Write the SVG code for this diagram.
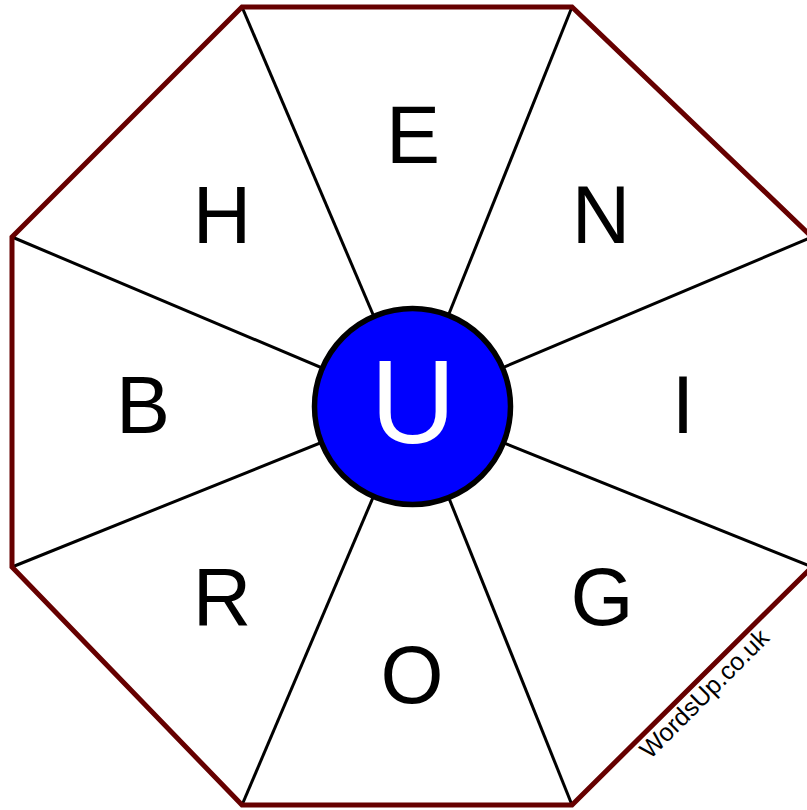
<svg xmlns="http://www.w3.org/2000/svg" width="807" height="810" viewBox="0 0 807 810">
<style>
.spoke{stroke:#000;stroke-width:3;fill:none}
.oct{fill:none;stroke:#660000;stroke-width:5;stroke-linejoin:miter}
.let{font-family:"Liberation Sans",Arial,sans-serif;font-size:81px;fill:#000;text-anchor:middle}
.wm{font-family:"Liberation Sans",Arial,sans-serif;font-size:25px;fill:#000}
</style>
<rect width="807" height="810" fill="#fff"/>
<g id="connectors">
<line class="spoke" x1="242" y1="7" x2="412" y2="406"/>
<line class="spoke" x1="572" y1="7" x2="412" y2="406"/>
<line class="spoke" x1="812" y1="237" x2="412" y2="406"/>
<line class="spoke" x1="812" y1="567" x2="412" y2="406"/>
<line class="spoke" x1="572" y1="805" x2="412" y2="406"/>
<line class="spoke" x1="242" y1="805" x2="412" y2="406"/>
<line class="spoke" x1="12" y1="567" x2="412" y2="406"/>
<line class="spoke" x1="12" y1="237" x2="412" y2="406"/>
</g>
<g id="octagon">
<polygon class="oct" points="242,7 572,7 812,237 812,567 572,805 242,805 12,567 12,237"/>
</g>
<g id="center">
<circle cx="412.5" cy="406.5" r="98" fill="#0000ff" stroke="#000" stroke-width="5.5"/>
<text x="413" y="443" font-family="Liberation Sans, Arial, sans-serif" font-size="118" fill="#fff" text-anchor="middle">U</text>
</g>
<g id="E"><text class="let" x="413" y="163">E</text></g>
<g id="N"><text class="let" x="601" y="243">N</text></g>
<g id="I"><text class="let" x="683" y="433">I</text></g>
<g id="G"><text class="let" x="602" y="625">G</text></g>
<g id="O"><text class="let" x="412" y="703">O</text></g>
<g id="R"><text class="let" x="222" y="625">R</text></g>
<g id="B"><text class="let" x="143" y="433">B</text></g>
<g id="H"><text class="let" x="222" y="243">H</text></g>
<g id="watermark"><text class="wm" transform="translate(650,760) rotate(-45)">WordsUp.co.uk</text></g>
</svg>
